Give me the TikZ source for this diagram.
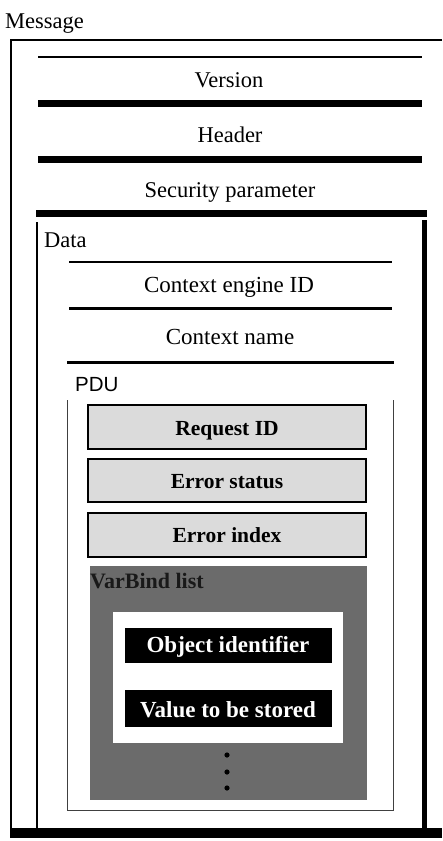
\documentclass[tikz,border=0pt]{standalone}
\usepackage{fontspec}
\setmainfont{Liberation Serif}
\newfontfamily\arialfont{Liberation Sans}
\begin{document}
\begin{tikzpicture}[x=1pt,y=-1pt,
  lbl/.style={anchor=base,inner sep=0pt,font=\fontsize{22.5}{25}\selectfont},
  thinrule/.style={line width=1.5pt},
  thickrule/.style={line width=7pt},
  lightfield/.style={draw=black,line width=2pt,fill=black!14},
  fieldtxt/.style={anchor=base,inner sep=0pt,font=\fontsize{21.5}{24}\selectfont\bfseries},
  whitetxt/.style={anchor=base,inner sep=0pt,font=\fontsize{23}{25}\selectfont\bfseries,text=white},
  pdurule/.style={line width=0.9pt,draw=black!75}]
\useasboundingbox (0,0) rectangle (442,841);
% Message frame
\node[lbl,anchor=base west] (msg) at (5,28) {Message};
\draw[line width=2pt] (442,40) -- (11,40) -- (11,838);
\draw[line width=10pt] (11,833) -- (442,833);
% Header fields
\draw[thinrule] (38,57) -- (422,57);
\node[lbl] (ver) at (229,87) {Version};
\draw[thickrule] (38,103.5) -- (422,103.5);
\node[lbl] (hdr) at (230,142) {Header};
\draw[thickrule] (38,159.5) -- (422,159.5);
\node[lbl] (sec) at (230,197) {Security parameter};
\draw[thickrule] (36,213.5) -- (427,213.5);
% Data frame
\draw[line width=1.5pt] (37,222) -- (37,830);
\draw[line width=5pt] (424.5,220) -- (424.5,830);
\node[lbl,anchor=base west] (data) at (44,247) {Data};
\draw[thinrule] (69,262) -- (392,262);
\node[lbl,font=\fontsize{23}{25}\selectfont] (ceid) at (229,292) {Context engine ID};
\draw[line width=3pt] (69,308) -- (392,308);
\node[lbl,font=\fontsize{23}{25}\selectfont] (cname) at (230,344) {Context name};
\draw[line width=3pt] (67,362) -- (394,362);
% PDU frame
\node[lbl,anchor=base west,font=\arialfont\fontsize{20.5}{24}\selectfont] (pdu) at (75,391) {PDU};
\draw[pdurule] (67,400) -- (67,810) -- (393,810) -- (393,400);
% PDU fields
\draw[lightfield] (88,405) rectangle (366,449);
\node[fieldtxt] (reqid) at (227,435) {Request ID};
\draw[lightfield] (88,459) rectangle (366,502);
\node[fieldtxt] (errst) at (227,488) {Error status};
\draw[lightfield] (88,513) rectangle (366,557);
\node[fieldtxt] (errix) at (227,542) {Error index};
% VarBind list
\fill[black!58] (90,566) rectangle (367,800);
\node[fieldtxt,anchor=base west,font=\fontsize{22}{24}\selectfont\bfseries,text=black!90] (vbl) at (90,588) {VarBind list};
\fill[white] (113,612) rectangle (343,743);
\fill[black] (125,628) rectangle (332,663);
\node[whitetxt] (oid) at (228,652) {Object identifier};
\fill[black] (125,690) rectangle (332,727);
\node[whitetxt] (val) at (228,717) {Value to be stored};
\foreach \yy in {755,772,788} \fill[black] (227,\yy) circle (2.6);
\end{tikzpicture}
\end{document}
